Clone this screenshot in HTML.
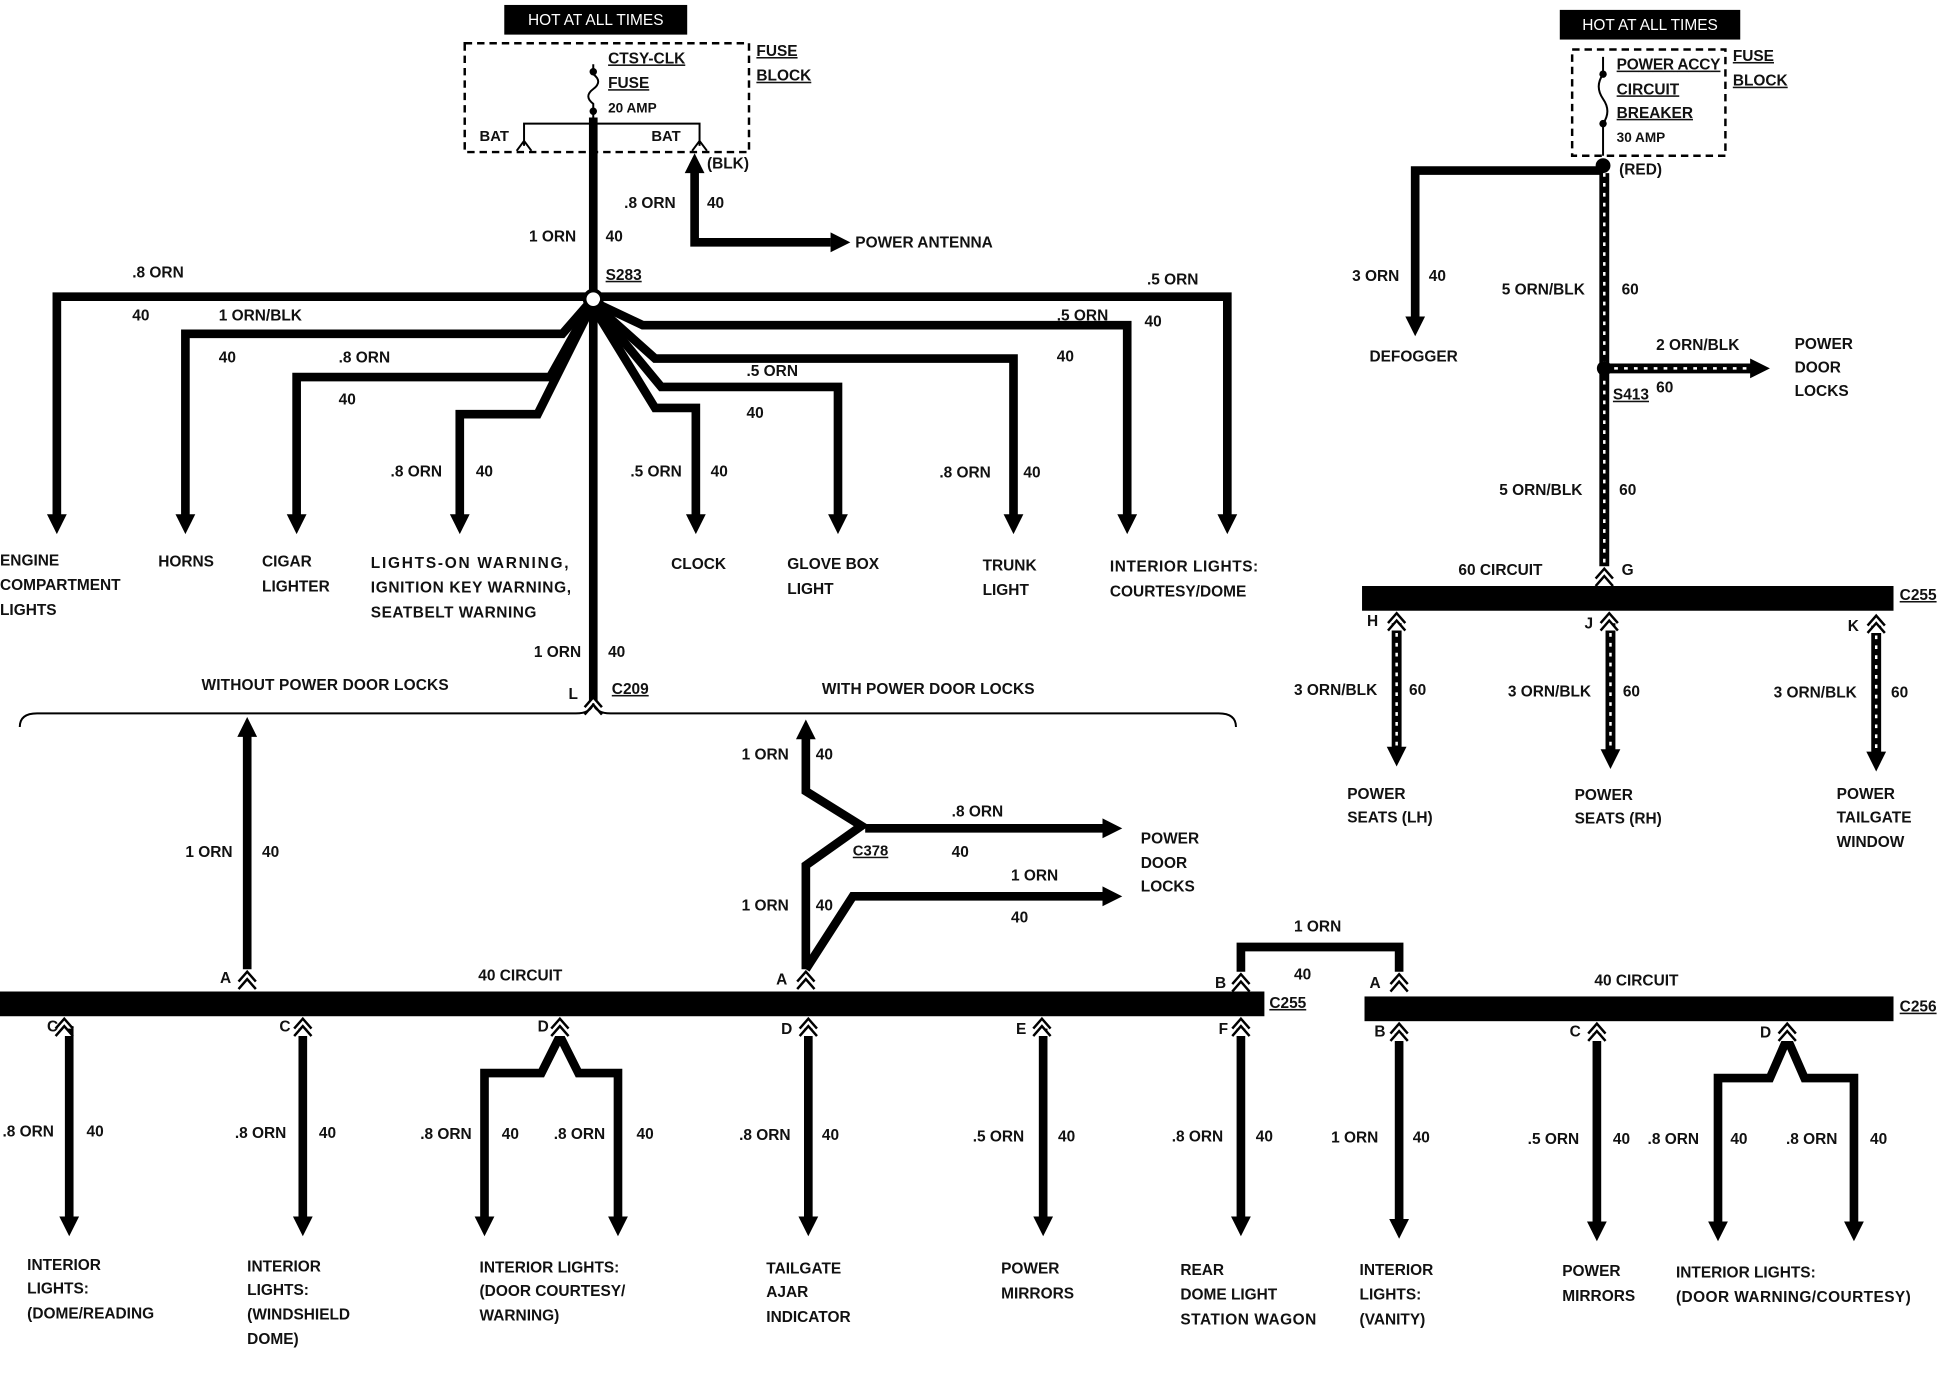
<!DOCTYPE html>
<html><head><meta charset="utf-8"><style>
html,body{margin:0;padding:0;background:#fff;}
svg{display:block}
text{font-family:"Liberation Sans",Arial,sans-serif;font-weight:bold;font-size:12.5px;fill:#111;dominant-baseline:middle;letter-spacing:0}
.w{stroke:#000;stroke-width:7;fill:none;stroke-linejoin:miter}
.s{stroke:#000;stroke-width:8;fill:none}
.st{stroke:#fff;stroke-width:2;stroke-dasharray:3 5;fill:none}
.t{stroke:#000;stroke-width:1.6;fill:none}
.bar{fill:#000}
.u{text-decoration:underline}
</style></head><body>
<svg width="1938" height="1376" viewBox="0 0 1568 1113" preserveAspectRatio="none" xmlns="http://www.w3.org/2000/svg">
<defs>
<g id="ad"><polygon points="-8,-16 8,-16 0,0" fill="#000"/></g>
<g id="au"><polygon points="-8,16 8,16 0,0" fill="#000"/></g>
<g id="ar"><polygon points="-16,-8 -16,8 0,0" fill="#000"/></g>
<g id="pin"><path d="M-7,6 L0,-2 L7,6 M-7,12 L0,4 L7,12" stroke="#000" stroke-width="2" fill="#fff"/></g>
</defs>

<rect x="408" y="4" width="148" height="24" fill="#000"/>
<text x="482" y="17" text-anchor="middle" style="fill:#fff;font-weight:normal">HOT AT ALL TIMES</text>
<rect x="376" y="35" width="230" height="88" fill="none" stroke="#000" stroke-width="2" stroke-dasharray="6 4"/>
<text x="492" y="48" class="u">CTSY-CLK</text>
<text x="492" y="68" class="u">FUSE</text>
<text x="492" y="88" style="font-size:11px">20 AMP</text>
<text x="612" y="42" class="u">FUSE</text>
<text x="612" y="62" class="u">BLOCK</text>
<text x="388" y="111" style="font-size:12px">BAT</text>
<text x="527" y="111" style="font-size:12px">BAT</text>
<path class="t" d="M424,118 L424,100 L566,100 L566,118 M418,122 L424,114 L430,122 M560,122 L566,114 L572,122"/>
<path class="t" d="M480,52 L480,60 Q488,66 480,72 Q472,78 480,84 L480,95"/>
<circle cx="480" cy="58" r="3" fill="#000"/><circle cx="480" cy="90" r="3" fill="#000"/>

<line class="w" x1="480" y1="95" x2="480" y2="568"/>
<circle cx="480" cy="242" r="7" fill="#fff" stroke="#000" stroke-width="3"/>
<text x="490" y="223" class="u">S283</text>
<text x="428" y="192">1 ORN</text><text x="490" y="192">40</text>

<path class="w" d="M562,136 L562,196 L672,196"/>
<use href="#au" x="562" y="124"/><use href="#ar" x="688" y="196"/>
<text x="572" y="133">(BLK)</text>
<text x="505" y="165">.8 ORN</text><text x="572" y="165">40</text>
<text x="692" y="197">POWER ANTENNA</text>

<path class="w" d="M474,240 L46,240 L46,418"/><use href="#ad" x="46" y="432"/>
<text x="107" y="221">.8 ORN</text><text x="107" y="256">40</text>
<path class="w" d="M476,246 L455,270 L150,270 L150,418"/><use href="#ad" x="150" y="432"/>
<text x="177" y="256">1 ORN/BLK</text><text x="177" y="290">40</text>
<path class="w" d="M477,248 L445,305 L240,305 L240,418"/><use href="#ad" x="240" y="432"/>
<text x="274" y="290">.8 ORN</text><text x="274" y="324">40</text>
<path class="w" d="M478,249 L435,335 L372,335 L372,418"/><use href="#ad" x="372" y="432"/>
<text x="316" y="382">.8  ORN</text><text x="385" y="382">40</text>
<text x="0" y="454">ENGINE</text><text x="0" y="474">COMPARTMENT</text><text x="0" y="494">LIGHTS</text>
<text x="128" y="455">HORNS</text>
<text x="212" y="455">CIGAR</text><text x="212" y="475">LIGHTER</text>
<text x="300" y="456" textLength="160">LIGHTS-ON WARNING,</text><text x="300" y="476" textLength="162">IGNITION KEY WARNING,</text><text x="300" y="496" textLength="134">SEATBELT WARNING</text>

<path class="w" d="M486,240 L993,240 L993,418"/><use href="#ad" x="993" y="432"/>
<text x="928" y="227">.5 ORN</text>
<path class="w" d="M484,246 L520,263 L912,263 L912,418"/><use href="#ad" x="912" y="432"/>
<text x="855" y="256">.5 ORN</text><text x="926" y="261">40</text>
<path class="w" d="M483,248 L530,290 L820,290 L820,418"/><use href="#ad" x="820" y="432"/>
<text x="855" y="289">40</text>
<text x="760" y="383">.8 ORN</text><text x="828" y="383">40</text>
<path class="w" d="M482,249 L535,313 L678,313 L678,418"/><use href="#ad" x="678" y="432"/>
<text x="604" y="301">.5 ORN</text><text x="604" y="335">40</text>
<path class="w" d="M481,250 L530,330 L563,330 L563,418"/><use href="#ad" x="563" y="432"/>
<text x="510" y="382">.5 ORN</text><text x="575" y="382">40</text>
<text x="543" y="457">CLOCK</text>
<text x="637" y="457">GLOVE BOX</text><text x="637" y="477">LIGHT</text>
<text x="795" y="458">TRUNK</text><text x="795" y="478">LIGHT</text>
<text x="898" y="459" textLength="120">INTERIOR LIGHTS:</text><text x="898" y="479">COURTESY/DOME</text>

<text x="432" y="528">1 ORN</text><text x="492" y="528">40</text>
<text x="460" y="562">L</text><text x="495" y="558" class="u">C209</text>
<use href="#pin" x="480" y="566"/>
<path class="t" stroke-width="2" d="M16,588 Q16,577 30,577 L466,577 Q478,577 480,569 Q482,577 494,577 L986,577 Q1000,577 1000,588"/>
<text x="163" y="555" textLength="200">WITHOUT POWER DOOR LOCKS</text>
<text x="665" y="558" textLength="172">WITH POWER DOOR LOCKS</text>

<line class="w" x1="200" y1="592" x2="200" y2="784"/>
<use href="#au" x="200" y="580"/><use href="#pin" x="200" y="788"/>
<text x="150" y="690">1 ORN</text><text x="212" y="690">40</text>
<text x="178" y="792">A</text>

<rect class="bar" x="0" y="802" width="1023" height="20"/>
<text x="387" y="790">40 CIRCUIT</text>
<text x="1027" y="812" class="u">C255</text>

<path class="w" d="M652,594 L652,640 L697,668 L652,700 L652,784"/>
<use href="#au" x="652" y="582"/>
<path class="w" d="M700,670 L893,670"/><use href="#ar" x="908" y="670"/>
<path class="w" d="M652,784 L690,725 L893,725"/><use href="#ar" x="908" y="725"/>
<use href="#pin" x="652" y="788"/>
<text x="690" y="689" class="u" style="font-size:12px">C378</text>
<text x="600" y="611">1 ORN</text><text x="660" y="611">40</text>
<text x="770" y="657">.8 ORN</text><text x="770" y="690">40</text>
<text x="923" y="679">POWER</text><text x="923" y="699">DOOR</text><text x="923" y="718">LOCKS</text>
<text x="818" y="709">1 ORN</text><text x="818" y="743">40</text>
<text x="600" y="733">1 ORN</text><text x="660" y="733">40</text>
<text x="628" y="793">A</text>

<line class="w" x1="56" y1="830" x2="56" y2="986"/><use href="#ad" x="56" y="1000"/><use href="#pin" x="52" y="826"/>
<text x="38" y="831">C</text>
<text x="2" y="916">.8 ORN</text><text x="70" y="916">40</text>
<text x="22" y="1024">INTERIOR</text><text x="22" y="1043">LIGHTS:</text><text x="22" y="1063">(DOME/READING</text>

<line class="w" x1="245" y1="830" x2="245" y2="986"/><use href="#ad" x="245" y="1000"/><use href="#pin" x="245" y="826"/>
<text x="226" y="831">C</text>
<text x="190" y="917">.8 ORN</text><text x="258" y="917">40</text>
<text x="200" y="1025">INTERIOR</text><text x="200" y="1044">LIGHTS:</text><text x="200" y="1064">(WINDSHIELD</text><text x="200" y="1084">DOME)</text>

<path class="w" d="M453,838 L438,868 L392,868 L392,986 M453,838 L468,868 L500,868 L500,986"/>
<use href="#ad" x="392" y="1000"/><use href="#ad" x="500" y="1000"/><use href="#pin" x="453" y="826"/>
<text x="435" y="831">D</text>
<text x="340" y="918">.8 ORN</text><text x="406" y="918">40</text><text x="448" y="918">.8 ORN</text><text x="515" y="918">40</text>
<text x="388" y="1026">INTERIOR LIGHTS:</text><text x="388" y="1045">(DOOR COURTESY/</text><text x="388" y="1065">WARNING)</text>

<line class="w" x1="654" y1="830" x2="654" y2="986"/><use href="#ad" x="654" y="1000"/><use href="#pin" x="654" y="826"/>
<text x="632" y="833">D</text>
<text x="598" y="919">.8 ORN</text><text x="665" y="919">40</text>
<text x="620" y="1027">TAILGATE</text><text x="620" y="1046">AJAR</text><text x="620" y="1066">INDICATOR</text>

<line class="w" x1="844" y1="830" x2="844" y2="986"/><use href="#ad" x="844" y="1000"/><use href="#pin" x="843" y="826"/>
<text x="822" y="833">E</text>
<text x="787" y="920">.5 ORN</text><text x="856" y="920">40</text>
<text x="810" y="1027">POWER</text><text x="810" y="1047">MIRRORS</text>

<line class="w" x1="1004" y1="830" x2="1004" y2="986"/><use href="#ad" x="1004" y="1000"/><use href="#pin" x="1004" y="826"/>
<text x="986" y="833">F</text>
<text x="948" y="920">.8 ORN</text><text x="1016" y="920">40</text>
<text x="955" y="1028">REAR</text><text x="955" y="1048">DOME LIGHT</text><text x="955" y="1068" textLength="110">STATION WAGON</text>

<path class="w" d="M1004,786 L1004,766 L1132,766 L1132,786"/>
<use href="#pin" x="1004" y="790"/><use href="#pin" x="1132" y="790"/>
<text x="1047" y="750">1 ORN</text><text x="1047" y="789">40</text>
<text x="983" y="796">B</text><text x="1108" y="796">A</text>

<rect class="bar" x="1104" y="806" width="428" height="20"/>
<text x="1290" y="794">40 CIRCUIT</text>
<text x="1537" y="815" class="u">C256</text>

<line class="w" x1="1132" y1="834" x2="1132" y2="988"/><use href="#ad" x="1132" y="1002"/><use href="#pin" x="1132" y="830"/>
<text x="1112" y="835">B</text>
<text x="1077" y="921">1 ORN</text><text x="1143" y="921">40</text>
<text x="1100" y="1028">INTERIOR</text><text x="1100" y="1048">LIGHTS:</text><text x="1100" y="1068">(VANITY)</text>

<line class="w" x1="1292" y1="834" x2="1292" y2="990"/><use href="#ad" x="1292" y="1004"/><use href="#pin" x="1292" y="830"/>
<text x="1270" y="835">C</text>
<text x="1236" y="922">.5 ORN</text><text x="1305" y="922">40</text>
<text x="1264" y="1029">POWER</text><text x="1264" y="1049">MIRRORS</text>

<path class="w" d="M1446,840 L1432,872 L1390,872 L1390,990 M1446,840 L1460,872 L1500,872 L1500,990"/>
<use href="#ad" x="1390" y="1004"/><use href="#ad" x="1500" y="1004"/><use href="#pin" x="1446" y="830"/>
<text x="1424" y="836">D</text>
<text x="1333" y="922">.8 ORN</text><text x="1400" y="922">40</text><text x="1445" y="922">.8 ORN</text><text x="1513" y="922">40</text>
<text x="1356" y="1030">INTERIOR LIGHTS:</text><text x="1356" y="1050" textLength="190">(DOOR WARNING/COURTESY)</text>

<rect x="1262" y="8" width="146" height="24" fill="#000"/>
<text x="1335" y="21" text-anchor="middle" style="fill:#fff;font-weight:normal">HOT AT ALL TIMES</text>
<rect x="1272" y="40" width="124" height="86" fill="none" stroke="#000" stroke-width="2" stroke-dasharray="6 4"/>
<text x="1308" y="53" class="u" textLength="84">POWER ACCY</text>
<text x="1308" y="73" class="u">CIRCUIT</text>
<text x="1308" y="92" class="u">BREAKER</text>
<text x="1308" y="112" style="font-size:11px">30 AMP</text>
<text x="1402" y="46" class="u">FUSE</text>
<text x="1402" y="66" class="u">BLOCK</text>
<path class="t" d="M1297,46 L1297,60 Q1290,70 1297,80 Q1304,90 1297,100 L1297,126"/>
<circle cx="1297" cy="60" r="3" fill="#000"/><circle cx="1297" cy="100" r="3" fill="#000"/>
<circle cx="1297" cy="134" r="6" fill="#000"/>
<text x="1310" y="138">(RED)</text>

<path class="w" d="M1297,138 L1145,138 L1145,258"/><use href="#ad" x="1145" y="272"/>
<text x="1094" y="224">3 ORN</text><text x="1156" y="224">40</text>
<text x="1108" y="289">DEFOGGER</text>

<line class="s" x1="1298" y1="140" x2="1298" y2="458"/>
<line class="st" x1="1298" y1="140" x2="1298" y2="458"/>
<line class="s" x1="1298" y1="298" x2="1418" y2="298"/>
<line class="st" x1="1298" y1="298" x2="1418" y2="298"/>
<use href="#ar" x="1432" y="298"/>
<circle cx="1298" cy="298" r="6" fill="#000"/>
<use href="#pin" x="1298" y="462"/>
<text x="1215" y="235">5 ORN/BLK</text><text x="1312" y="235">60</text>
<text x="1305" y="320" class="u">S413</text><text x="1340" y="314">60</text>
<text x="1340" y="280">2 ORN/BLK</text>
<text x="1452" y="279">POWER</text><text x="1452" y="298">DOOR</text><text x="1452" y="317">LOCKS</text>
<text x="1213" y="397">5 ORN/BLK</text><text x="1310" y="397">60</text>
<text x="1180" y="462">60 CIRCUIT</text><text x="1312" y="462">G</text>

<rect class="bar" x="1102" y="474" width="430" height="20"/>
<text x="1537" y="482" class="u">C255</text>

<line class="s" x1="1130" y1="504" x2="1130" y2="606"/><line class="st" x1="1130" y1="504" x2="1130" y2="606"/>
<use href="#ad" x="1130" y="620"/><use href="#pin" x="1130" y="498"/>
<line class="s" x1="1303" y1="504" x2="1303" y2="608"/><line class="st" x1="1303" y1="504" x2="1303" y2="608"/>
<use href="#ad" x="1303" y="622"/><use href="#pin" x="1302" y="498"/>
<line class="s" x1="1518" y1="506" x2="1518" y2="610"/><line class="st" x1="1518" y1="506" x2="1518" y2="610"/>
<use href="#ad" x="1518" y="624"/><use href="#pin" x="1518" y="500"/>
<text x="1106" y="503">H</text><text x="1282" y="505">J</text><text x="1495" y="507">K</text>
<text x="1047" y="559">3 ORN/BLK</text><text x="1140" y="559">60</text>
<text x="1220" y="560">3 ORN/BLK</text><text x="1313" y="560">60</text>
<text x="1435" y="561">3 ORN/BLK</text><text x="1530" y="561">60</text>
<text x="1090" y="643">POWER</text><text x="1090" y="662">SEATS (LH)</text>
<text x="1274" y="644">POWER</text><text x="1274" y="663">SEATS (RH)</text>
<text x="1486" y="643">POWER</text><text x="1486" y="662">TAILGATE</text><text x="1486" y="682">WINDOW</text>
</svg>
</body></html>
